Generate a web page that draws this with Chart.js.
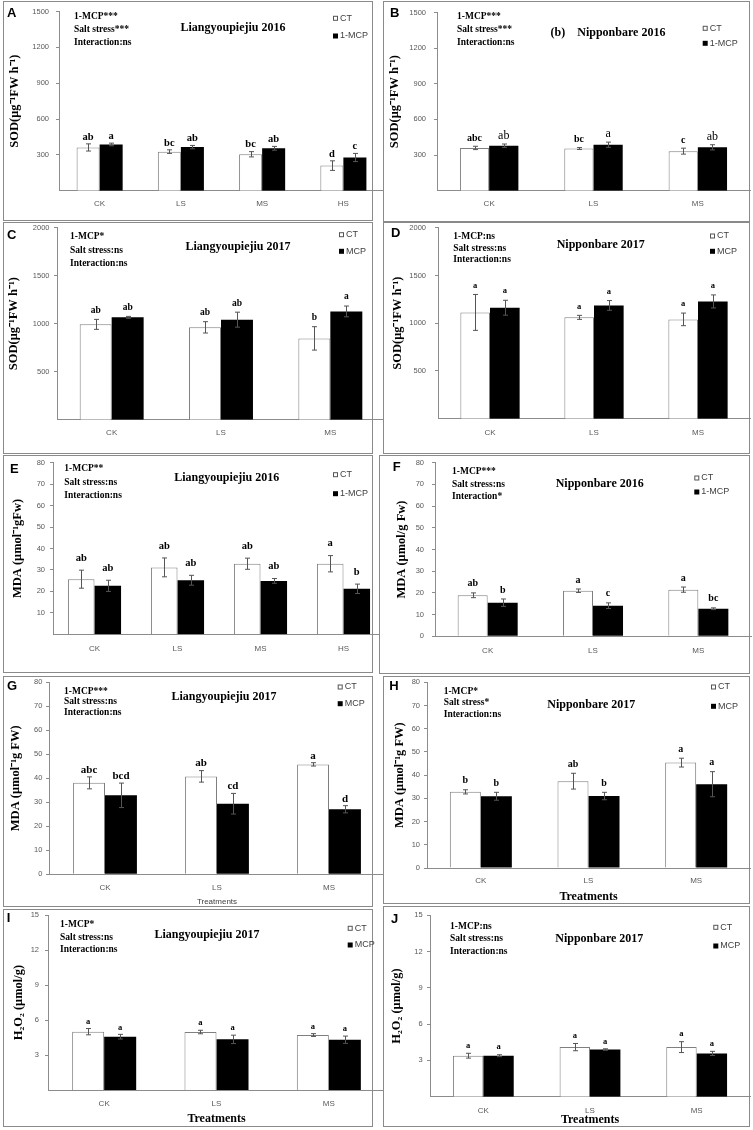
<!DOCTYPE html>
<html><head><meta charset="utf-8">
<script src="https://cdn.jsdelivr.net/npm/chart.js@4.4.1/dist/chart.umd.min.js"></script>
<style>
html,body{margin:0;padding:0;background:#fff;}
#wrap{position:relative;width:753px;height:1130px;overflow:hidden;}
#wrap canvas{position:absolute;left:0;top:0;}
</style></head><body><div id="wrap"></div>
<script>
// ---------- categories ----------
const catsSalt4 = ['CK', 'LS', 'MS', 'HS'];
const catsSalt3 = ['CK', 'LS', 'MS'];

// ---------- tick labels ----------
const ticksSOD2016 = [300, 600, 900, 1200, 1500];
const ticksSOD2017 = [500, 1000, 1500, 2000];
const ticksMDAnoZero = [10, 20, 30, 40, 50, 60, 70, 80];
const ticksMDA = [0, 10, 20, 30, 40, 50, 60, 70, 80];
const ticksH2O2 = [3, 6, 9, 12, 15];

// ---------- A: SOD Liangyoupiejiu 2016 ----------
const sodLy16CT = [362, 327, 305, 210];
const sodLy16CTErr = [30, 15, 22, 40];
const sodLy16MCP = [387, 365, 355, 278];
const sodLy16MCPErr = [11, 14, 16, 34];
const sodLy16CTSig = ['ab', 'bc', 'bc', 'd'];
const sodLy16MCPSig = ['a', 'ab', 'ab', 'c'];

// ---------- B: SOD Nipponbare 2016 ----------
const sodNp16CT = [360, 355, 333];
const sodNp16CTErr = [14, 8, 25];
const sodNp16MCP = [379, 387, 365];
const sodNp16MCPErr = [14, 22, 22];
const sodNp16CTSig = ['abc', 'bc', 'c'];
const sodNp16MCPSig = ['ab', 'a', 'ab'];

// ---------- C: SOD Liangyoupiejiu 2017 ----------
const sodLy17CT = [993, 962, 847];
const sodLy17CTErr = [52, 59, 122];
const sodLy17MCP = [1066, 1042, 1128];
const sodLy17MCPErr = [10, 78, 56];
const sodLy17CTSig = ['ab', 'ab', 'b'];
const sodLy17MCPSig = ['ab', 'ab', 'a'];

// ---------- D: SOD Nipponbare 2017 ----------
const sodNp17CT = [1113, 1061, 1040];
const sodNp17CTErr = [188, 21, 66];
const sodNp17MCP = [1162, 1186, 1228];
const sodNp17MCPErr = [78, 51, 68];
const sodNp17CTSig = ['a', 'a', 'a'];
const sodNp17MCPSig = ['a', 'a', 'a'];

// ---------- E: MDA Liangyoupiejiu 2016 ----------
const mdaLy16CT = [25.7, 31.2, 32.9, 32.9];
const mdaLy16CTErr = [4.2, 4.4, 2.6, 3.8];
const mdaLy16MCP = [22.6, 25.2, 24.9, 21.2];
const mdaLy16MCPErr = [2.6, 2.3, 1.1, 2.2];
const mdaLy16CTSig = ['ab', 'ab', 'ab', 'a'];
const mdaLy16MCPSig = ['ab', 'ab', 'ab', 'b'];

// ---------- F: MDA Nipponbare 2016 ----------
const mdaNp16CT = [18.9, 21.0, 21.5];
const mdaNp16CTErr = [1.1, 0.8, 1.2];
const mdaNp16MCP = [15.5, 14.1, 12.7];
const mdaNp16MCPErr = [1.7, 1.3, 0.4];
const mdaNp16CTSig = ['ab', 'a', 'a'];
const mdaNp16MCPSig = ['b', 'c', 'bc'];

// ---------- G: MDA Liangyoupiejiu 2017 ----------
const mdaLy17CT = [38.1, 40.8, 45.8];
const mdaLy17CTErr = [2.5, 2.4, 0.7];
const mdaLy17MCP = [32.9, 29.4, 27.1];
const mdaLy17MCPErr = [5.1, 4.3, 1.5];
const mdaLy17CTSig = ['abc', 'ab', 'a'];
const mdaLy17MCPSig = ['bcd', 'cd', 'd'];

// ---------- H: MDA Nipponbare 2017 ----------
const mdaNp17CT = [32.8, 37.4, 45.4];
const mdaNp17CTErr = [0.9, 3.4, 1.9];
const mdaNp17MCP = [30.9, 31.0, 36.1];
const mdaNp17MCPErr = [1.7, 1.6, 5.4];
const mdaNp17CTSig = ['b', 'ab', 'a'];
const mdaNp17MCPSig = ['b', 'b', 'a'];

// ---------- I: H2O2 Liangyoupiejiu 2017 ----------
const h2o2Ly17CT = [5.0, 4.97, 4.71];
const h2o2Ly17CTErr = [0.27, 0.15, 0.12];
const h2o2Ly17MCP = [4.57, 4.34, 4.31];
const h2o2Ly17MCPErr = [0.2, 0.36, 0.31];
const h2o2Ly17CTSig = ['a', 'a', 'a'];
const h2o2Ly17MCPSig = ['a', 'a', 'a'];

// ---------- J: H2O2 Nipponbare 2017 ----------
const h2o2Np17CT = [3.39, 4.1, 4.1];
const h2o2Np17CTErr = [0.2, 0.3, 0.45];
const h2o2Np17MCP = [3.39, 3.9, 3.58];
const h2o2Np17MCPErr = [0.08, 0.06, 0.17];
const h2o2Np17CTSig = ['a', 'a', 'a'];
const h2o2Np17MCPSig = ['a', 'a', 'a'];

// ---------- texts ----------
const legend1MCP = ['CT', '1-MCP'];
const legendMCP = ['CT', 'MCP'];
const notesA = ['1-MCP***', 'Salt stress***', 'Interaction:ns'];
const notesB = ['1-MCP***', 'Salt stress***', 'Interaction:ns'];
const notesC = ['1-MCP*', 'Salt stress:ns', 'Interaction:ns'];
const notesD = ['1-MCP:ns', 'Salt stress:ns', 'Interaction:ns'];
const notesE = ['1-MCP**', 'Salt stress:ns', 'Interaction:ns'];
const notesF = ['1-MCP***', 'Salt stress:ns', 'Interaction*'];
const notesG = ['1-MCP***', 'Salt stress:ns', 'Interaction:ns'];
const notesH = ['1-MCP*', 'Salt stress*', 'Interaction:ns'];
const notesI = ['1-MCP*', 'Salt stress:ns', 'Interaction:ns'];
const notesJ = ['1-MCP:ns', 'Salt stress:ns', 'Interaction:ns'];
const ySOD = 'SOD(μg⁻¹FW h⁻¹)';

const SERIF = '"Liberation Serif","Times New Roman",serif';
const SANS = '"Liberation Sans",Arial,sans-serif';
const AXIS = '#8c8c8c';

const panels = [
  {letter:'A', cats:catsSalt4, ct:sodLy16CT, ctErr:sodLy16CTErr, mcp:sodLy16MCP, mcpErr:sodLy16MCPErr, ctSig:sodLy16CTSig, mcpSig:sodLy16MCPSig,
   yMax:1500, ticks:ticksSOD2016, yTitle:ySOD, title:'Liangyoupiejiu 2016', notes:notesA, legend:legend1MCP,
   box:[3,1,373,221], area:[59,7.3,384,190.7], titlePos:[233,28.3], notePos:[74,16.7,13], legendPos:[333,18.3,36], letterPos:[7,16.7],
   yTitleX:15, tickGap:10, xPad:8.5, catPct:0.567, sigGap:7, sigFonts:['bold 10.5px '+SERIF,'bold 10.5px '+SERIF]},
  {letter:'C', cats:catsSalt3, ct:sodLy17CT, ctErr:sodLy17CTErr, mcp:sodLy17MCP, mcpErr:sodLy17MCPErr, ctSig:sodLy17CTSig, mcpSig:sodLy17MCPSig,
   yMax:2000, ticks:ticksSOD2017, yTitle:ySOD, title:'Liangyoupiejiu 2017', notes:notesC, legend:legendMCP,
   box:[3,222,373,454], area:[57,227.7,385,419.7], titlePos:[238,247], notePos:[70,237,13.3], legendPos:[339,234.7,251.3], letterPos:[7,238.7],
   yTitleX:14, tickGap:7.5, xPad:8.5, catPct:0.585, sigGap:9, sigFonts:['bold 9.5px '+SERIF,'bold 9.5px '+SERIF]},
  {letter:'E', cats:catsSalt4, ct:mdaLy16CT, ctErr:mdaLy16CTErr, mcp:mdaLy16MCP, mcpErr:mdaLy16MCPErr, ctSig:mdaLy16CTSig, mcpSig:mdaLy16MCPSig,
   yMax:80, ticks:ticksMDAnoZero, yTitle:'MDA (μmol⁻¹gFw)', title:'Liangyoupiejiu 2016', notes:notesE, legend:legend1MCP,
   box:[3,455,373,673], area:[53,462.7,385,634.3], titlePos:[226.7,478], notePos:[64.3,468.7,13.5], legendPos:[333,474.7,493.7], letterPos:[10,472.7],
   yTitleX:17.5, tickGap:8, xPad:9.9, catPct:0.64, sigGap:12, sigFonts:['bold 10.5px '+SERIF,'bold 10.5px '+SERIF]},
  {letter:'G', cats:catsSalt3, ct:mdaLy17CT, ctErr:mdaLy17CTErr, mcp:mdaLy17MCP, mcpErr:mdaLy17MCPErr, ctSig:mdaLy17CTSig, mcpSig:mdaLy17MCPSig,
   yMax:80, ticks:ticksMDA, yTitle:'MDA (μmol⁻¹g FW)', title:'Liangyoupiejiu 2017', notes:notesG, legend:legendMCP,
   box:[3,676,373,907], area:[49,682.3,385,874.3], titlePos:[224,697], notePos:[64,691.3,10.5], legendPos:[337.7,687,703.7], letterPos:[7,690.3],
   yTitleX:16, tickGap:6.7, xPad:8.9, catPct:0.57, sigGap:7, sigFonts:['bold 11px '+SERIF,'bold 11px '+SERIF],
   xTitle:{text:'Treatments', font:{family:SANS,size:8}, color:'#404040', y:902}},
  {letter:'I', cats:catsSalt3, ct:h2o2Ly17CT, ctErr:h2o2Ly17CTErr, mcp:h2o2Ly17MCP, mcpErr:h2o2Ly17MCPErr, ctSig:h2o2Ly17CTSig, mcpSig:h2o2Ly17MCPSig,
   yMax:15, ticks:ticksH2O2, yTitle:'H₂O₂ (μmol/g)', title:'Liangyoupiejiu 2017', notes:notesI, legend:legendMCP,
   box:[3,909,373,1127], area:[48,915,385,1090], titlePos:[207,935], notePos:[60,925,12.5], legendPos:[347.7,928.3,945], letterPos:[6.7,921.7],
   yTitleX:19, tickGap:9, xPad:9.2, catPct:0.57, sigGap:7, sigFonts:['bold 8.5px '+SERIF,'bold 8.5px '+SERIF],
   xTitle:{text:'Treatments', font:{family:SERIF,size:12,weight:'bold'}, color:'#000', y:1119}},
  {letter:'B', cats:catsSalt3, ct:sodNp16CT, ctErr:sodNp16CTErr, mcp:sodNp16MCP, mcpErr:sodNp16MCPErr, ctSig:sodNp16CTSig, mcpSig:sodNp16MCPSig,
   yMax:1500, ticks:ticksSOD2016, yTitle:ySOD, title:'(b)    Nipponbare 2016', notes:notesB, legend:legend1MCP,
   box:[383,1,750,222], area:[437,7.3,750,190.7], titlePos:[608,33.3], notePos:[457,16.7,13], legendPos:[702.7,28.3,43.3], letterPos:[390,16.7],
   yTitleX:395, tickGap:11, xPad:8.5, catPct:0.56, sigGap:8, sigFonts:['bold 10px '+SERIF,'12px '+SERIF]},
  {letter:'D', cats:catsSalt3, ct:sodNp17CT, ctErr:sodNp17CTErr, mcp:sodNp17MCP, mcpErr:sodNp17MCPErr, ctSig:sodNp17CTSig, mcpSig:sodNp17MCPSig,
   yMax:2000, ticks:ticksSOD2017, yTitle:ySOD, title:'Nipponbare 2017', notes:notesD, legend:legendMCP,
   box:[383,222,750,454], area:[438,227.7,750,418.7], titlePos:[600.7,245.3], notePos:[453.3,237,11.5], legendPos:[710,236,251.3], letterPos:[391,237],
   yTitleX:398, tickGap:12, xPad:9.5, catPct:0.57, sigGap:9, sigFonts:['bold 8.5px '+SERIF,'bold 8.5px '+SERIF]},
  {letter:'F', cats:catsSalt3, ct:mdaNp16CT, ctErr:mdaNp16CTErr, mcp:mdaNp16MCP, mcpErr:mdaNp16MCPErr, ctSig:mdaNp16CTSig, mcpSig:mdaNp16MCPSig,
   yMax:80, ticks:ticksMDA, yTitle:'MDA (μmol/g Fw)', title:'Nipponbare 2016', notes:notesF, legend:legend1MCP,
   box:[379,455,750,674], area:[435,462.7,751,636.3], titlePos:[599.7,483.7], notePos:[452,472,12.2], legendPos:[694.3,478,492], letterPos:[392.7,471.3],
   yTitleX:402, tickGap:11, xPad:9.9, catPct:0.57, sigGap:9, sigFonts:['bold 10px '+SERIF,'bold 10px '+SERIF]},
  {letter:'H', cats:catsSalt3, ct:mdaNp17CT, ctErr:mdaNp17CTErr, mcp:mdaNp17MCP, mcpErr:mdaNp17MCPErr, ctSig:mdaNp17CTSig, mcpSig:mdaNp17MCPSig,
   yMax:80, ticks:ticksMDA, yTitle:'MDA (μmol⁻¹g FW)', title:'Nipponbare 2017', notes:notesH, legend:legendMCP,
   box:[383,676,750,904], area:[427,682.3,750,868], titlePos:[591.3,705.3], notePos:[443.7,691.3,11.7], legendPos:[711,687,706.3], letterPos:[389.3,690.3],
   yTitleX:400, tickGap:7, xPad:8.2, catPct:0.576, sigGap:9, sigFonts:['bold 10px '+SERIF,'bold 10px '+SERIF],
   xTitle:{text:'Treatments', font:{family:SERIF,size:12,weight:'bold'}, color:'#000', y:897}},
  {letter:'J', cats:catsSalt3, ct:h2o2Np17CT, ctErr:h2o2Np17CTErr, mcp:h2o2Np17MCP, mcpErr:h2o2Np17MCPErr, ctSig:h2o2Np17CTSig, mcpSig:h2o2Np17MCPSig,
   yMax:15, ticks:ticksH2O2, yTitle:'H₂O₂ (μmol/g)', title:'Nipponbare 2017', notes:notesJ, legend:legendMCP,
   box:[383,906,750,1127], area:[430,915.3,750,1096.7], titlePos:[599.3,939.3], notePos:[450,926.7,12.2], legendPos:[713.3,927.3,946], letterPos:[391,923.3],
   yTitleX:397, tickGap:7.3, xPad:9.5, catPct:0.57, sigGap:7.5, sigFonts:['bold 8.5px '+SERIF,'bold 8.5px '+SERIF],
   xTitle:{text:'Treatments', font:{family:SERIF,size:12,weight:'bold'}, color:'#000', y:1120}}
];

function decoPlugin(p) {
  return {
    id: 'deco' + p.letter,
    beforeDraw(chart) {
      const ctx = chart.ctx, b = p.box;
      ctx.save();
      ctx.fillStyle = '#ffffff';
      ctx.fillRect(b[0], b[1], b[2] - b[0], b[3] - b[1]);
      ctx.restore();
    },
    afterDatasetsDraw(chart) {
      const ctx = chart.ctx, ys = chart.scales.y;
      const vals = [p.ct, p.mcp], errs = [p.ctErr, p.mcpErr], sigs = [p.ctSig, p.mcpSig];
      ctx.save();
      for (let d = 0; d < 2; d++) {
        const meta = chart.getDatasetMeta(d);
        meta.data.forEach((el, j) => {
          const v = vals[d][j], e = errs[d][j];
          const x = Math.round(el.x) + 0.5;
          const yt = ys.getPixelForValue(v + e), yb = ys.getPixelForValue(v - e);
          ctx.strokeStyle = '#555555'; ctx.lineWidth = 1;
          ctx.beginPath();
          ctx.moveTo(x, yt); ctx.lineTo(x, yb);
          ctx.moveTo(x - 2.5, yt); ctx.lineTo(x + 2.5, yt);
          ctx.moveTo(x - 2.5, yb); ctx.lineTo(x + 2.5, yb);
          ctx.stroke();
          ctx.fillStyle = '#000'; ctx.font = p.sigFonts[d];
          ctx.textAlign = 'center'; ctx.textBaseline = 'middle';
          ctx.fillText(sigs[d][j], el.x, yt - p.sigGap);
        });
      }
      ctx.restore();
    },
    afterDraw(chart) {
      const ctx = chart.ctx, b = p.box;
      ctx.save();
      // panel frame
      ctx.strokeStyle = '#8a8a8a'; ctx.lineWidth = 1;
      ctx.strokeRect(b[0] + 0.5, b[1] + 0.5, b[2] - b[0] - 1, b[3] - b[1] - 1);
      // panel letter
      ctx.fillStyle = '#000'; ctx.font = 'bold 13px ' + SANS;
      ctx.textAlign = 'left'; ctx.textBaseline = 'alphabetic';
      ctx.fillText(p.letter, p.letterPos[0], p.letterPos[1]);
      // chart title
      ctx.font = 'bold 12px ' + SERIF; ctx.textAlign = 'center'; ctx.textBaseline = 'middle';
      ctx.fillText(p.title, p.titlePos[0], p.titlePos[1]);
      // statistics notes
      ctx.font = 'bold 9.5px ' + SERIF; ctx.textAlign = 'left';
      p.notes.forEach((t, i) => ctx.fillText(t, p.notePos[0], p.notePos[1] + i * p.notePos[2]));
      // legend
      const lx = p.legendPos[0];
      [p.legendPos[1], p.legendPos[2]].forEach((cy, i) => {
        if (i === 0) {
          ctx.fillStyle = '#fff'; ctx.fillRect(lx, cy - 2.5, 5, 5);
          ctx.strokeStyle = '#555'; ctx.strokeRect(lx + 0.5, cy - 2, 4, 4);
        } else {
          ctx.fillStyle = '#000'; ctx.fillRect(lx, cy - 2.5, 5, 5);
        }
        ctx.fillStyle = '#404040'; ctx.font = '9px ' + SANS;
        ctx.textAlign = 'left'; ctx.textBaseline = 'middle';
        ctx.fillText(p.legend[i], lx + 7, cy);
      });
      ctx.restore();
    }
  };
}

function makeChart(p) {
  const cv = document.createElement('canvas');
  cv.width = 753; cv.height = 1130;
  document.getElementById('wrap').appendChild(cv);
  const [bL, bT, bR, bB] = p.box, [aL, aT, aR, aB] = p.area;
  const yFontSize = 12.5, yLH = yFontSize * 1.2;
  const xTitleOpt = p.xTitle ? {
    display: true, text: p.xTitle.text, font: p.xTitle.font, color: p.xTitle.color,
    padding: {top: 0, bottom: Math.max(0, bB - p.xTitle.y - p.xTitle.font.size * 1.2 / 2)}
  } : {display: false};
  new Chart(cv, {
    type: 'bar',
    data: {
      labels: p.cats,
      datasets: [
        {label: p.legend[0], data: p.ct, backgroundColor: '#ffffff', borderColor: '#7f7f7f', borderWidth: 1,
         categoryPercentage: p.catPct, barPercentage: 1},
        {label: p.legend[1], data: p.mcp, backgroundColor: '#000000', borderColor: '#000000', borderWidth: 0,
         categoryPercentage: p.catPct, barPercentage: 1}
      ]
    },
    options: {
      responsive: false, animation: false, devicePixelRatio: 1, events: [],
      layout: {padding: {left: bL, top: aT, right: 753 - aR, bottom: 1130 - bB}},
      plugins: {legend: {display: false}, tooltip: {enabled: false}, title: {display: false}},
      scales: {
        x: {
          grid: {display: false, drawTicks: false},
          border: {display: true, color: AXIS, width: 1},
          ticks: {font: {family: SANS, size: 8}, color: '#595959', padding: p.xPad, maxRotation: 0, autoSkip: false},
          title: xTitleOpt,
          afterFit: s => { s.height = bB - aB; }
        },
        y: {
          min: 0, max: p.yMax,
          grid: {drawOnChartArea: false, drawTicks: true, tickLength: 3, color: AXIS},
          border: {display: true, color: AXIS, width: 1},
          ticks: {font: {family: SANS, size: 7.5}, color: '#595959', padding: p.tickGap - 3,
                  callback: v => String(v)},
          afterBuildTicks: s => { s.ticks = p.ticks.map(v => ({value: v})); },
          title: {display: true, text: p.yTitle, color: '#000',
                  font: {family: SERIF, size: yFontSize, weight: 'bold'},
                  padding: {top: Math.max(0, p.yTitleX - bL - yLH / 2), bottom: 0}},
          afterFit: s => { s.width = aL - bL; }
        }
      }
    },
    plugins: [decoPlugin(p)]
  });
}

panels.forEach(makeChart);
</script>
</body></html>
